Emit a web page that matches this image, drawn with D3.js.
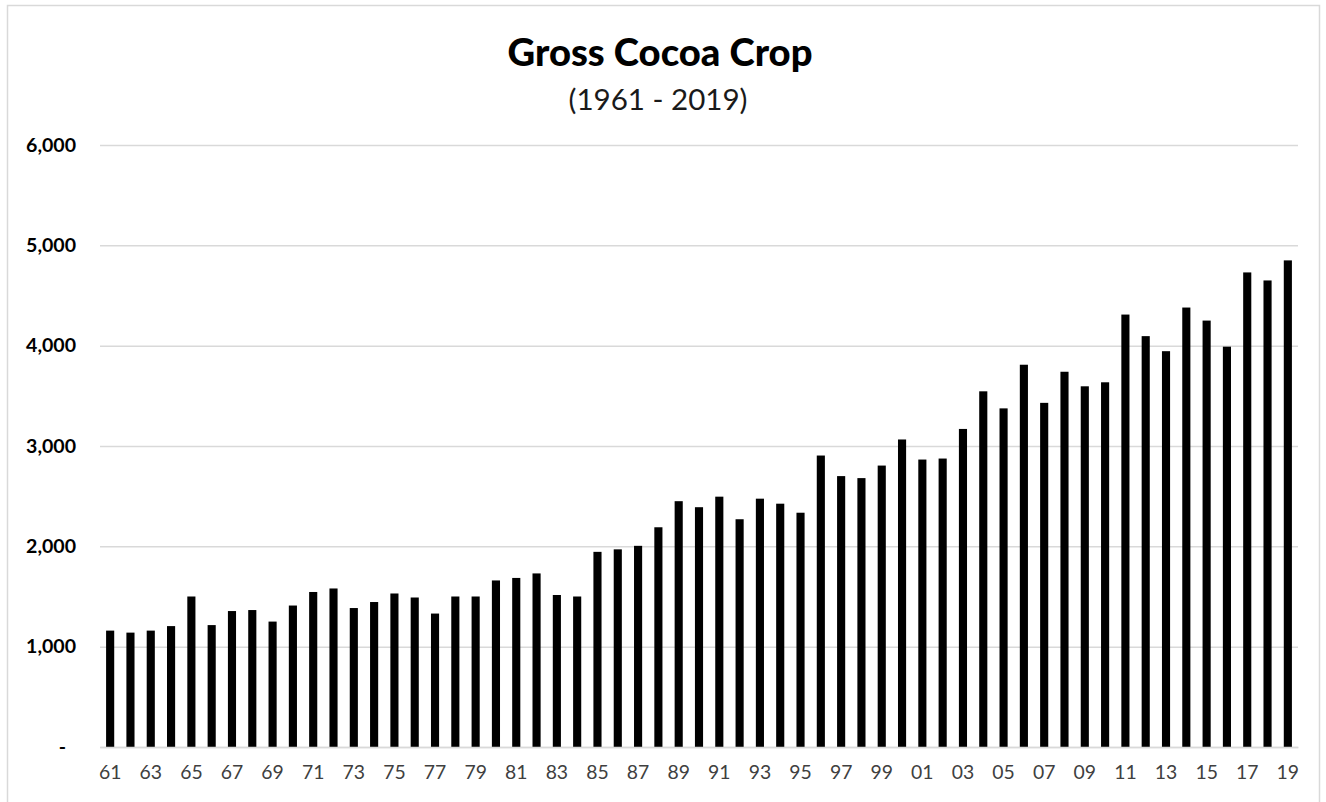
<!DOCTYPE html>
<html>
<head>
<meta charset="utf-8">
<script src="https://cdn.jsdelivr.net/npm/d3@7"></script>
<style>
  html, body { margin: 0; padding: 0; background: #fff; }
  svg { display: block; }
</style>
</head>
<body>
<svg id="chart" width="1326" height="802"></svg>
<script>
const years = ["61","62","63","64","65","66","67","68","69","70",
  "71","72","73","74","75","76","77","78","79","80",
  "81","82","83","84","85","86","87","88","89","90",
  "91","92","93","94","95","96","97","98","99","00",
  "01","02","03","04","05","06","07","08","09","10",
  "11","12","13","14","15","16","17","18","19"];
const crop = [1160,1140,1160,1205,1500,1215,1355,1365,1250,1410,
  1545,1580,1385,1445,1530,1490,1330,1500,1500,1660,
  1685,1730,1515,1500,1945,1970,2005,2190,2450,2390,
  2495,2270,2475,2425,2335,2905,2700,2680,2805,3065,
  2865,2875,3170,3545,3375,3810,3430,3740,3595,3635,
  4310,4095,3945,4380,4250,3990,4730,4650,4850];
const yTicks = [0,1000,2000,3000,4000,5000,6000];
const title = "Gross Cocoa Crop";
const subtitle = "(1961 - 2019)";

(function () {
const svg = d3.select("#chart");
const pl = 100, pr = 1298, pt = 145, pb = 747;

// outer border
svg.append("rect").attr("x", 7.5).attr("y", 5.5).attr("width", 1312).attr("height", 820)
  .attr("fill", "#fff").attr("stroke", "#d9d9d9").attr("stroke-width", 1.5);

const x = d3.scaleBand().domain(years).range([pl, pr]).paddingInner(0.6).paddingOuter(0.3);
const y = d3.scaleLinear().domain([0, 6000]).range([pb, pt]);

function fitSize(node, targetW, startSize) {
  node.style.fontSize = startSize + "px";
  const w = node.getComputedTextLength();
  return startSize * targetW / w;
}

// title
const t = svg.append("text").attr("x", 660).attr("y", 66).attr("text-anchor", "middle")
  .style("font-family", "Lato, 'Open Sans', sans-serif").style("font-weight", "900")
  .attr("fill", "#000").text(title);
t.style("font-size", fitSize(t.node(), 305, 32) + "px");
const st = svg.append("text").attr("x", 658).attr("y", 110).attr("text-anchor", "middle")
  .style("font-family", "Lato, 'Open Sans', sans-serif")
  .attr("fill", "#1a1a1a").text(subtitle);
st.style("font-size", fitSize(st.node(), 179, 22) + "px");

// gridlines via axis
const grid = svg.append("g").attr("transform", `translate(${pl},0)`)
  .call(d3.axisLeft(y).tickValues(yTicks).tickSize(-(pr - pl)).tickFormat(""));
grid.select(".domain").remove();
grid.selectAll(".tick line").attr("stroke", "#d9d9d9").attr("stroke-width", 1.5);

// y labels
const yAx = svg.append("g").attr("transform", `translate(76,0)`)
  .call(d3.axisLeft(y).tickValues(yTicks).tickSize(0).tickPadding(0)
    .tickFormat(d => d === 0 ? "-" : d3.format(",")(d)));
yAx.select(".domain").remove();
const yTexts = yAx.selectAll("text").style("font-family", "Lato, 'Open Sans', sans-serif")
  .style("font-weight", "bold").attr("fill", "#000");
const topLabel = yAx.selectAll(".tick").filter(d => d === 6000).select("text").node();
const ySize = fitSize(topLabel, 50, 16);
yTexts.style("font-size", ySize + "px");
yAx.selectAll(".tick").filter(d => d === 0).select("text").attr("x", -10);

// bars
svg.append("g").selectAll("rect").data(crop).join("rect")
  .attr("x", (d, i) => x(years[i]))
  .attr("width", x.bandwidth())
  .attr("y", d => y(d))
  .attr("height", d => y(0) - y(d))
  .attr("fill", "#000");

// x axis
const xAx = svg.append("g").attr("transform", `translate(0,${pb})`)
  .call(d3.axisBottom(x).tickValues(years.filter((d, i) => i % 2 === 0)).tickSize(0).tickPadding(18));
xAx.select(".domain").attr("stroke", "#d9d9d9").attr("stroke-width", 1.5);
const xTexts = xAx.selectAll("text").style("font-family", "Lato, 'Open Sans', sans-serif")
  .attr("fill", "#404040");
const xSize = fitSize(xTexts.node(), 22.5, 16);
xTexts.style("font-size", xSize + "px");
})();
</script>
</body>
</html>
